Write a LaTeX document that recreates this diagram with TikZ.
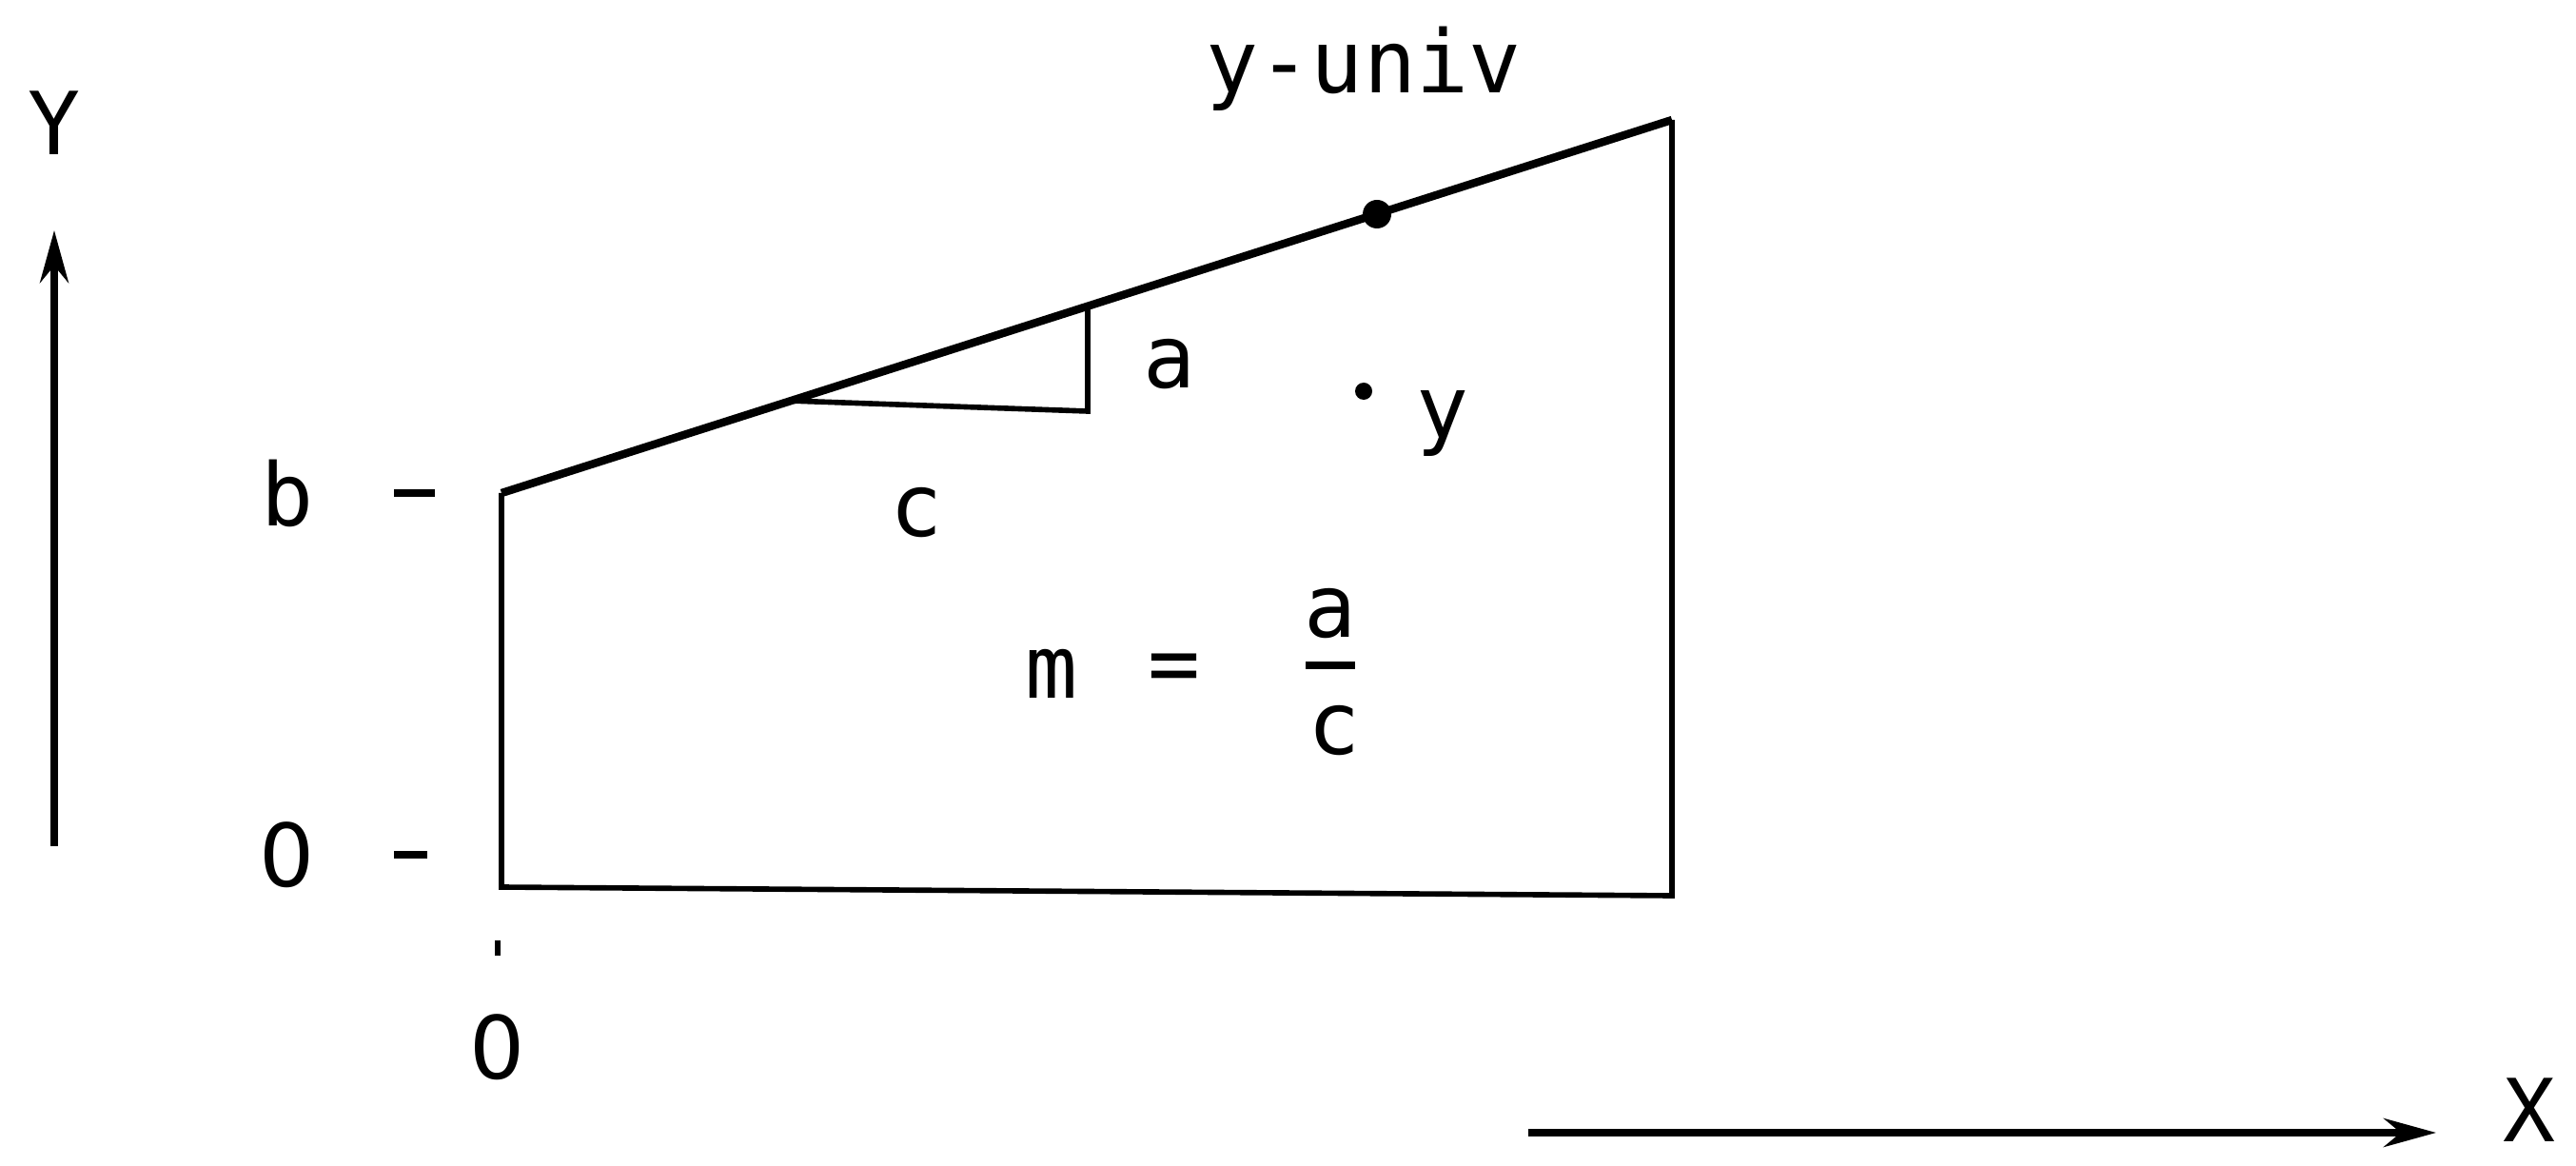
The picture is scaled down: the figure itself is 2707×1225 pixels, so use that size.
\documentclass[tikz,border=0pt]{standalone}
\usepackage{fontspec}
\setmainfont{DejaVu Sans Mono}
\newfontfamily\digfont{DejaVu Sans}
\usetikzlibrary{arrows.meta}
\begin{document}
\begin{tikzpicture}[x=0.01cm,y=-0.01cm,
  lbl/.style={inner sep=0pt,font=\fontsize{26}{30}\selectfont},
  edge/.style={line width=1.6pt},
  slope/.style={line width=2.4pt},
  axis/.style={line width=2.2pt,-{Stealth[length=0.55cm,width=0.3cm]}}]
\useasboundingbox (0,0) rectangle (2707,1225);
% corners
\coordinate (A) at (527,518);
\coordinate (O) at (527,932);
\coordinate (B) at (1757,941);
\coordinate (T) at (1757,126);
\coordinate (P) at (829,421);
\coordinate (Q) at (1143,432);
\coordinate (R) at (1143,322);
\coordinate (U) at (1447,225);
% shape
\draw[edge] (A) -- (O) -- (B) -- (T);
\draw[slope] (A) -- (T);
\draw[edge] (P) -- (Q) -- (R);
\fill (U) circle (15);
\fill (1433,411) circle (9);
% axes
\coordinate (ya0) at (57,889);
\coordinate (ya1) at (57,242);
\draw[axis] (ya0) -- (ya1);
\coordinate (xa0) at (1606,1190);
\coordinate (xa1) at (2560,1190);
\draw[axis] (xa0) -- (xa1);
\node[lbl] (Ylab) at (57,129) {Y};
\node[lbl] (Xlab) at (2658,1166) {X};
% labels
\node[lbl] (blab) at (302,518) {b};
\draw[line width=2.2pt] (414,518) -- (457,518);
\node[lbl] (zlab) at (302,898) {\digfont 0};
\draw[line width=2.2pt] (414,898) -- (449,898);
\draw[line width=1.8pt] (523,988) -- (523,1004);
\node[lbl] (zx) at (523,1100) {\digfont 0};
\node[lbl] (univ) at (1433,72) {y-univ};
\node[lbl] (alab) at (1229,383) {a};
\node[lbl] (clab) at (963,539) {c};
\node[lbl] (ylab) at (1516,445) {y};
\node[lbl] (mlab) at (1105,708) {m};
\node[lbl] (eq) at (1234,708) {=};
\node[lbl] (fa) at (1398,645) {a};
\draw[line width=2.2pt] (1372,699) -- (1424,699);
\node[lbl] (fc) at (1402,768) {c};
\end{tikzpicture}
\end{document}
